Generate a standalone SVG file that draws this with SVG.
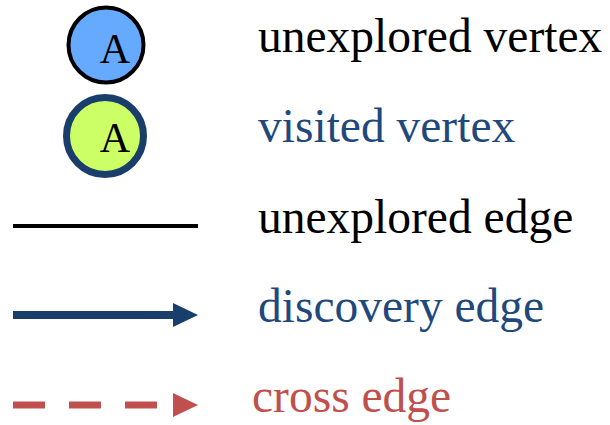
<svg xmlns="http://www.w3.org/2000/svg" width="610" height="425" viewBox="0 0 610 425">
<style>
text{font-family:"Liberation Serif","Times New Roman",serif;}
.lbl{font-size:47.5px;}
.v{font-size:42px;text-anchor:middle;fill:#000;}
.blk{fill:#000;}
.blu{fill:#1f497d;}
.red{fill:#c0504d;}
</style>
<rect width="610" height="425" fill="#fff"/>
<g id="unexplored-vertex">
<circle cx="106" cy="45" r="37.5" fill="#66aaff" stroke="#000" stroke-width="4"/>
<text class="v" x="115" y="63">A</text>
</g>
<g id="visited-vertex">
<circle cx="105" cy="136" r="38.5" fill="#ccff66" stroke="#1a3e6b" stroke-width="7"/>
<text class="v" x="115" y="152">A</text>
</g>
<g id="connectors">
<line x1="13" y1="226" x2="198" y2="226" stroke="#000" stroke-width="4"/>
<line x1="13" y1="315" x2="175" y2="315" stroke="#1a3e6b" stroke-width="8"/>
<polygon points="173,303 198,315 173,327" fill="#1a3e6b"/>
<line x1="13" y1="405" x2="160" y2="405" stroke="#c0504d" stroke-width="7" stroke-dasharray="32,24"/>
<polygon points="173,393 198,405 173,417" fill="#c0504d"/>
</g>
<g id="labels">
<text class="lbl blk" x="258" y="52">unexplored vertex</text>
<text class="lbl blu" x="258" y="142">visited vertex</text>
<text class="lbl blk" x="258" y="233">unexplored edge</text>
<text class="lbl blu" x="258" y="322">discovery edge</text>
<text class="lbl red" x="252" y="412">cross edge</text>
</g>
</svg>
